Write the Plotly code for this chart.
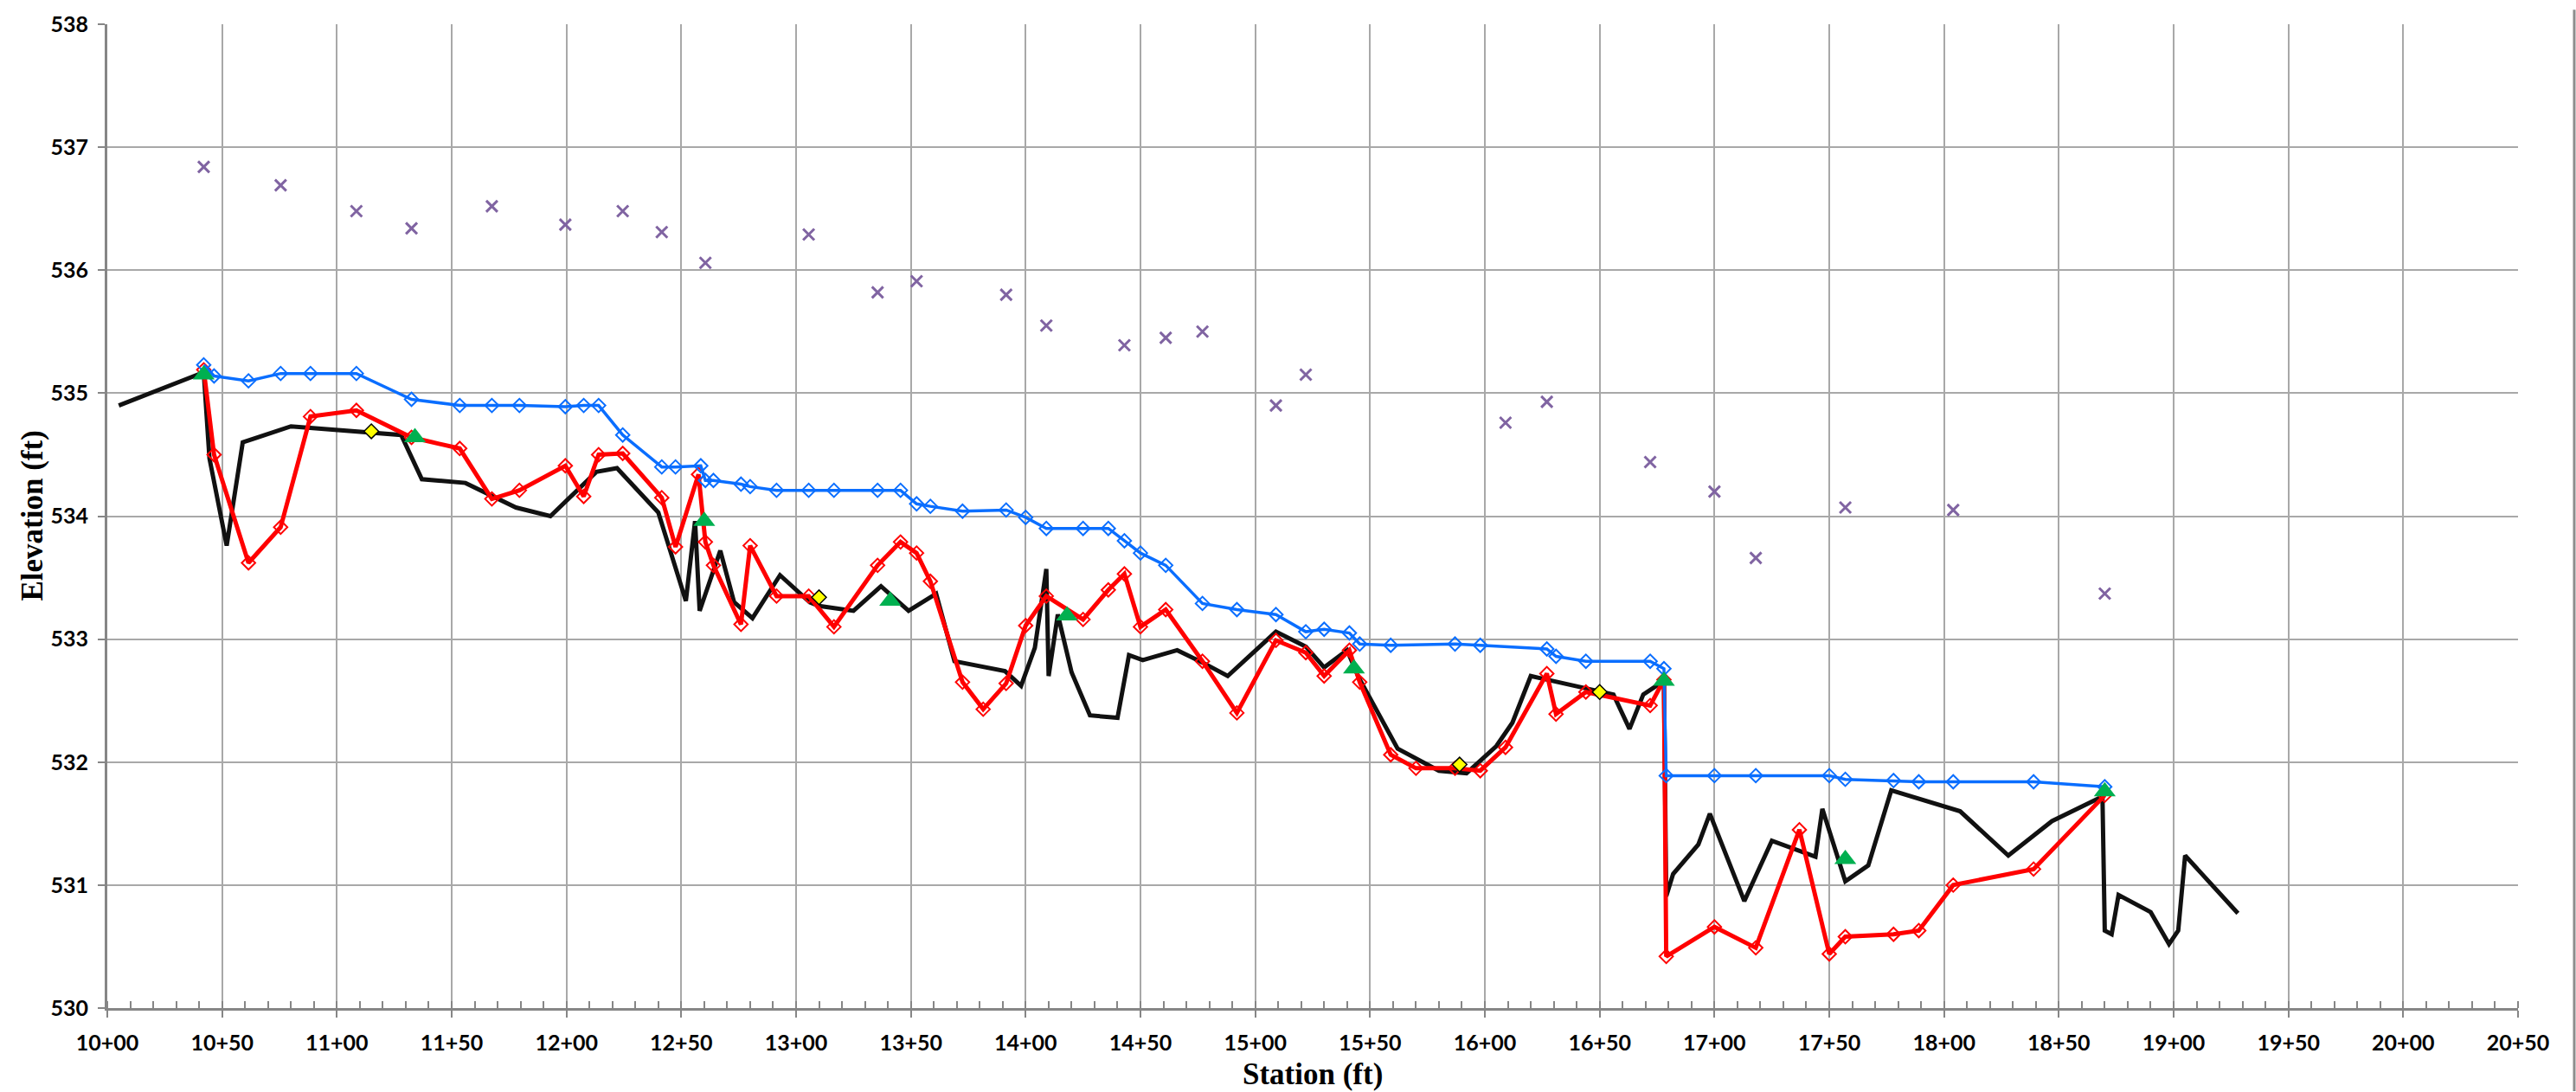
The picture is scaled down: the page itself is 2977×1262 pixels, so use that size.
import plotly.graph_objects as go

# ---- Profile data (station in ft, elevation in ft) ----
thalweg_sta = [1005, 1042, 1044.5, 1052, 1059, 1080, 1128, 1137, 1156, 1178, 1193, 1213, 1222,
               1240, 1252, 1256, 1258, 1267, 1273, 1281, 1293, 1306, 1310, 1325, 1337, 1349,
               1361, 1369, 1391, 1398, 1404, 1409, 1410, 1414, 1420, 1428, 1440, 1445, 1451,
               1466, 1477, 1488, 1509, 1522, 1530, 1540, 1545, 1562, 1580, 1592, 1605, 1612,
               1620, 1656, 1663, 1669, 1678, 1679, 1682, 1693, 1698, 1713, 1725, 1744, 1747,
               1757, 1767, 1777, 1807, 1828, 1847, 1869, 1870, 1873, 1876, 1890, 1898, 1902,
               1905, 1928]
thalweg_elev = [534.90, 535.17, 534.47, 533.76, 534.60, 534.73, 534.66, 534.30, 534.27, 534.07,
                534.00, 534.36, 534.39, 534.03, 533.31, 533.96, 533.23, 533.72, 533.30, 533.17,
                533.52, 533.30, 533.27, 533.23, 533.43, 533.23, 533.37, 532.82, 532.74, 532.62,
                532.93, 533.57, 532.70, 533.20, 532.73, 532.38, 532.36, 532.87, 532.83, 532.91,
                532.81, 532.70, 533.06, 532.94, 532.77, 532.91, 532.69, 532.11, 531.93, 531.91,
                532.13, 532.32, 532.70, 532.55, 532.27, 532.55, 532.66, 530.91, 531.09, 531.33,
                531.58, 530.87, 531.36, 531.23, 531.62, 531.03, 531.16, 531.77, 531.60, 531.24,
                531.52, 531.72, 530.63, 530.60, 530.92, 530.78, 530.52, 530.63, 531.24, 530.77]

# stations shared by the surveyed bed and water surface profiles
survey_sta = [1042, 1046.5, 1061.5, 1075.5, 1088.5, 1108.5, 1132.5, 1153.5, 1167.5, 1179.5,
              1199.5, 1207.5, 1214, 1224.5, 1241.5, 1247.5]

bed_sta = survey_sta + [1257.5, 1260.5, 1264, 1276, 1280, 1291.5, 1305.5, 1316.5, 1335.5,
                        1345.5, 1352.5, 1358.5, 1372.5, 1381.5, 1391.5, 1400, 1409, 1425,
                        1436, 1443, 1450, 1461, 1477, 1492, 1509, 1522, 1530, 1541, 1545.5,
                        1559, 1570, 1587, 1598, 1609, 1627, 1631, 1644, 1672, 1678, 1679,
                        1700, 1718, 1737, 1750, 1757, 1778, 1789, 1804, 1839, 1870]
bed_elev = [535.19, 534.50, 533.62, 533.91, 534.81, 534.86, 534.64, 534.55, 534.14, 534.21,
            534.41, 534.16, 534.50, 534.51, 534.15, 533.75, 534.34, 533.79, 533.60, 533.12,
            533.76, 533.35, 533.35, 533.10, 533.60, 533.79, 533.70, 533.47, 532.65, 532.43,
            532.64, 533.11, 533.35, 533.16, 533.40, 533.53, 533.10, 533.24, 532.82, 532.40,
            532.99, 532.89, 532.70, 532.91, 532.65, 532.06, 531.95, 531.95, 531.93, 532.12,
            532.72, 532.39, 532.57, 532.46, 532.67, 530.42, 530.66, 530.49, 531.45, 530.44,
            530.58, 530.60, 530.63, 531.00, 531.13, 531.73]

wse_sta = survey_sta + [1258.5, 1260.5, 1264, 1276, 1280, 1291.5, 1305.5, 1316.5, 1335.5,
                        1345.5, 1352.5, 1358.5, 1372.5, 1391.5, 1400, 1409, 1425, 1436, 1443,
                        1450, 1461, 1477, 1492, 1509, 1522, 1530, 1541, 1545.5, 1559, 1587,
                        1598, 1627, 1631, 1644, 1672, 1678, 1679, 1700, 1718, 1750, 1757,
                        1778, 1789, 1804, 1839, 1870]
wse_elev = [535.23, 535.14, 535.10, 535.16, 535.16, 535.16, 534.95, 534.90, 534.90, 534.90,
            534.89, 534.90, 534.90, 534.66, 534.40, 534.40, 534.41, 534.29, 534.29, 534.26,
            534.24, 534.21, 534.21, 534.21, 534.21, 534.21, 534.10, 534.08, 534.04, 534.05,
            533.99, 533.90, 533.90, 533.90, 533.80, 533.70, 533.60, 533.29, 533.24, 533.20,
            533.06, 533.08, 533.05, 532.96, 532.95, 532.96, 532.95, 532.92, 532.86, 532.82,
            532.82, 532.76, 531.89, 531.89, 531.89, 531.89, 531.86, 531.85, 531.84, 531.84,
            531.84, 531.80]

bank_sta = [1042, 1075.5, 1108.5, 1132.5, 1167.5, 1199.5, 1224.5, 1241.5, 1260.5, 1305.5,
            1335.5, 1352.5, 1391.5, 1409, 1443, 1461, 1477, 1509, 1522, 1609, 1627, 1672,
            1700, 1718, 1757, 1804, 1870]
bank_elev = [536.84, 536.69, 536.48, 536.34, 536.52, 536.37, 536.48, 536.31, 536.06, 536.29,
             535.82, 535.91, 535.80, 535.55, 535.39, 535.45, 535.50, 534.90, 535.15, 534.76,
             534.93, 534.44, 534.20, 533.66, 534.07, 534.05, 533.37]

grade_sta = [1042, 1134, 1260, 1341, 1418, 1543, 1678, 1757, 1870]
grade_elev = [535.15, 534.64, 533.96, 533.31, 533.19, 532.76, 532.66, 531.21, 531.76]

riffle_sta = [1115, 1310, 1589, 1650]
riffle_elev = [534.69, 533.34, 531.98, 532.57]

# ---- Axis ticks ----
x_tickvals = list(range(1000, 2051, 50))
x_ticktext = [f"<b>{v // 100}+{v % 100:02d}</b>" for v in x_tickvals]
y_tickvals = [530, 531, 532, 533, 534, 535, 536, 537, 538]
y_ticktext = [f"<b>{v}</b>" for v in y_tickvals]

fig = go.Figure()

fig.add_trace(go.Scatter(x=thalweg_sta, y=thalweg_elev, mode="lines", name="Thalweg",
                         line=dict(color="#111111", width=5)))
fig.add_trace(go.Scatter(x=bed_sta, y=bed_elev, mode="lines+markers", name="Bed",
                         line=dict(color="#FF0000", width=5),
                         marker=dict(symbol="diamond-open", size=12, color="#FF0000",
                                     line=dict(color="#FF0000", width=2))))
fig.add_trace(go.Scatter(x=wse_sta, y=wse_elev, mode="lines+markers", name="Water surface",
                         line=dict(color="#0A6EFF", width=3.5),
                         marker=dict(symbol="diamond-open", size=12, color="#0A6EFF",
                                     line=dict(color="#0A6EFF", width=2))))
fig.add_trace(go.Scatter(x=bank_sta, y=bank_elev, mode="markers", name="Top of bank",
                         marker=dict(symbol="x-thin", size=13,
                                     line=dict(color="#8064A2", width=3))))
fig.add_trace(go.Scatter(x=grade_sta, y=grade_elev, mode="markers", name="Grade control",
                         marker=dict(symbol="triangle-up", size=22, color="#00B050",
                                     line=dict(width=0))))
fig.add_trace(go.Scatter(x=riffle_sta, y=riffle_elev, mode="markers", name="Riffle",
                         marker=dict(symbol="diamond", size=13, color="#FFFF00",
                                     line=dict(color="#000000", width=1.5))))

axis_line = "#868686"
grid_col = "#A8A8A8"
tick_font = dict(family="Lato, Carlito, Calibri, sans-serif", size=25, color="#000000")

fig.update_xaxes(range=[1000, 2050], tickmode="array", tickvals=x_tickvals,
                 ticktext=x_ticktext, tickfont=tick_font, showgrid=True,
                 gridcolor=grid_col, gridwidth=2, showline=True, linecolor=axis_line,
                 linewidth=3, ticks="outside", ticklen=8, tickwidth=2, tickcolor=axis_line,
                 zeroline=False, ticklabelstandoff=8,
                 minor=dict(dtick=10, tick0=1000, ticks="inside", ticklen=8, tickwidth=2,
                            tickcolor=axis_line, showgrid=False))
fig.update_yaxes(range=[530, 538], tickmode="array", tickvals=y_tickvals,
                 ticktext=y_ticktext, tickfont=tick_font, showgrid=True,
                 gridcolor=grid_col, gridwidth=2, showline=True, linecolor=axis_line,
                 linewidth=3, ticks="outside", ticklen=8, tickwidth=2, tickcolor=axis_line,
                 zeroline=False, ticklabelstandoff=6)

title_font = dict(family="Liberation Serif, Times New Roman, serif", size=35,
                  color="#000000")

W, H = 2977, 1262
ml, mr, mt, mb = 124, 67, 17, 97
plot_w = W - ml - mr
plot_h = H - mt - mb

fig.update_layout(
    width=W, height=H, autosize=False,
    margin=dict(l=ml, r=mr, t=mt, b=mb, pad=0),
    paper_bgcolor="white", plot_bgcolor="white",
    showlegend=False,
    annotations=[
        dict(text="<b>Station (ft)</b>", xref="paper", yref="paper", x=0.5,
             y=-(1242 - (H - mb)) / plot_h, xanchor="center", yanchor="middle",
             showarrow=False, font=title_font),
        dict(text="<b>Elevation (ft)</b>", xref="paper", yref="paper",
             x=(37 - ml) / plot_w, y=0.5, xanchor="center", yanchor="middle",
             textangle=-90, showarrow=False, font=title_font),
    ],
    shapes=[
        # outer frame edge on the right side of the chart area
        dict(type="line", xref="paper", yref="paper",
             x0=(2975 - ml) / plot_w, x1=(2975 - ml) / plot_w,
             y0=-mb / plot_h, y1=1 + mt / plot_h,
             line=dict(color="#8C8C8C", width=3)),
    ],
)

fig.write_html("out.html", config={"displayModeBar": False})
